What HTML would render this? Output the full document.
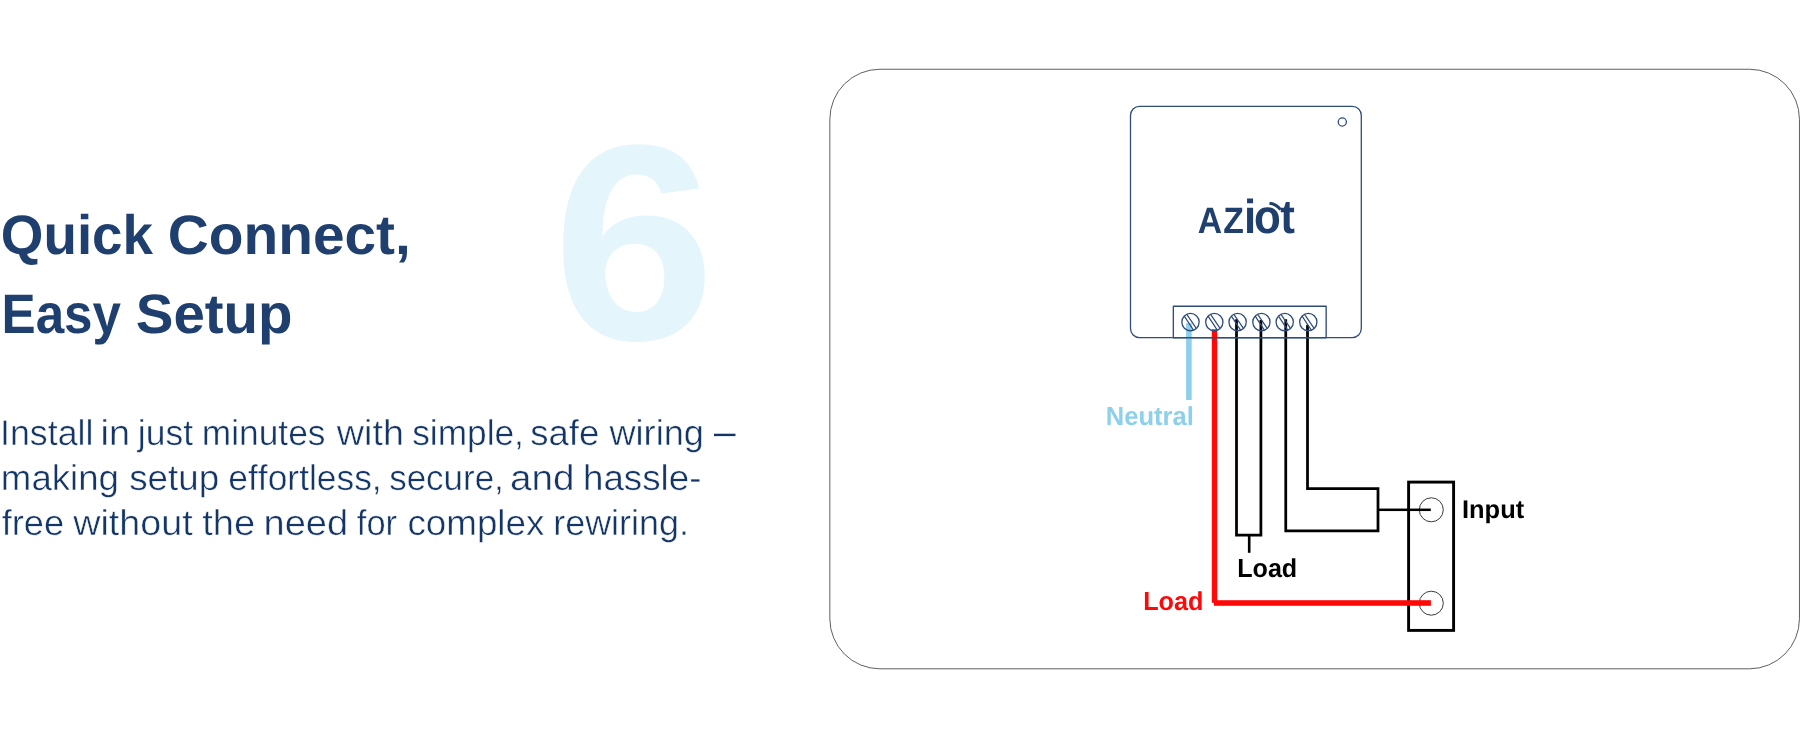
<!DOCTYPE html>
<html lang="en"><head><meta charset="utf-8"><title>Quick Connect, Easy Setup</title>
<style>html,body{margin:0;padding:0;background:#fff}body{width:1800px;height:738px;overflow:hidden}svg{display:block;will-change:transform}text{text-rendering:geometricPrecision;font-family:"Liberation Sans",sans-serif;font-kerning:none;font-variant-ligatures:none;white-space:pre}</style>
</head><body>
<svg width="1800" height="738" viewBox="0 0 1800 738">
<g id="bignum">
<text transform="translate(552.42,339.21) scale(1.0846,1.0344)" font-size="270.00" font-weight="bold" fill="#e5f5fc">6</text>
</g>
<g id="heading">
<text y="253.60" font-size="55.67" font-weight="bold" fill="#1f3f6e"><tspan x="0.81" textLength="152.26" lengthAdjust="spacingAndGlyphs">Quick</tspan> <tspan x="167.82" textLength="243.01" lengthAdjust="spacingAndGlyphs">Connect,</tspan></text>
<text y="333.00" font-size="55.67" font-weight="bold" fill="#1f3f6e"><tspan x="1.54" textLength="119.51" lengthAdjust="spacingAndGlyphs">Easy</tspan> <tspan x="135.81" textLength="156.75" lengthAdjust="spacingAndGlyphs">Setup</tspan></text>
</g>
<g id="para">
<text y="445.33" font-size="35.83" font-weight="normal" fill="#143667" stroke="#fff" stroke-width="0.45"><tspan x="0.07" textLength="93.37" lengthAdjust="spacingAndGlyphs">Install</tspan> <tspan x="100.61" textLength="29.38" lengthAdjust="spacingAndGlyphs">in</tspan> <tspan x="137.86" textLength="55.12" lengthAdjust="spacingAndGlyphs">just</tspan> <tspan x="201.79" textLength="123.67" lengthAdjust="spacingAndGlyphs">minutes</tspan> <tspan x="336.86" textLength="67.02" lengthAdjust="spacingAndGlyphs">with</tspan> <tspan x="412.21" textLength="111.69" lengthAdjust="spacingAndGlyphs">simple,</tspan> <tspan x="530.26" textLength="69.02" lengthAdjust="spacingAndGlyphs">safe</tspan> <tspan x="609.47" textLength="94.42" lengthAdjust="spacingAndGlyphs">wiring</tspan> <tspan x="714.10" textLength="21.50" lengthAdjust="spacingAndGlyphs" stroke="none" dy="-1.4">–</tspan></text>
<text y="490.23" font-size="35.83" font-weight="normal" fill="#143667" stroke="#fff" stroke-width="0.45"><tspan x="0.89" textLength="118.13" lengthAdjust="spacingAndGlyphs">making</tspan> <tspan x="129.26" textLength="89.84" lengthAdjust="spacingAndGlyphs">setup</tspan> <tspan x="228.37" textLength="153.33" lengthAdjust="spacingAndGlyphs">effortless,</tspan> <tspan x="389.22" textLength="114.55" lengthAdjust="spacingAndGlyphs">secure,</tspan> <tspan x="510.01" textLength="64.45" lengthAdjust="spacingAndGlyphs">and</tspan> <tspan x="583.00" textLength="118.39" lengthAdjust="spacingAndGlyphs">hassle-</tspan></text>
<text y="535.33" font-size="35.83" font-weight="normal" fill="#143667" stroke="#fff" stroke-width="0.45"><tspan x="1.73" textLength="62.34" lengthAdjust="spacingAndGlyphs">free</tspan> <tspan x="73.26" textLength="119.36" lengthAdjust="spacingAndGlyphs">without</tspan> <tspan x="202.29" textLength="52.87" lengthAdjust="spacingAndGlyphs">the</tspan> <tspan x="263.59" textLength="84.53" lengthAdjust="spacingAndGlyphs">need</tspan> <tspan x="356.87" textLength="40.17" lengthAdjust="spacingAndGlyphs">for</tspan> <tspan x="407.40" textLength="136.99" lengthAdjust="spacingAndGlyphs">complex</tspan> <tspan x="553.25" textLength="135.71" lengthAdjust="spacingAndGlyphs">rewiring.</tspan></text>
</g>
<rect x="829.84" y="69.25" width="969.61" height="599.55" rx="50" ry="50" fill="none" stroke="#4d4d4d" stroke-width="0.9"/>
<g id="device" fill="none" stroke="#2f4c7a" stroke-width="1.3">
<rect x="1130.5" y="106.4" width="230.8" height="231.2" rx="9" ry="9"/>
<circle cx="1342.3" cy="122" r="4.1"/>
</g>
<g id="switch" fill="none" stroke="#000">
<rect x="1408.6" y="482.1" width="45.0" height="148.3" stroke-width="2.9"/>
<circle cx="1431.3" cy="509.8" r="12" stroke-width="1" stroke="#3a3a3a"/>
<circle cx="1431.3" cy="603.2" r="12" stroke-width="1" stroke="#3a3a3a"/>
</g>
<g id="wires">
<rect x="1186.1" y="323.2" width="5.6" height="76.8" fill="#8dd0ec"/>
<rect x="1211.8" y="329.3" width="5.4" height="273.5" fill="#ff0808"/>
<rect x="1213.9" y="600.2" width="217.0" height="5.6" fill="#ff0808"/>
<g fill="none" stroke="#000" stroke-width="2.75" stroke-linejoin="miter">
<path d="M1236.5 319.2 V535.1 H1260.9 V320"/>
<path d="M1285.75 319.2 V530.9 H1378 V488.6 H1307.5 V325"/>
</g>
<rect x="1247.9" y="536" width="2.6" height="16.8" fill="#000"/>
<rect x="1378" y="508.55" width="52.8" height="2.5" fill="#000"/>
</g>
<g id="terminal" fill="none" stroke="#2f4c7a" stroke-width="1.35">
<rect x="1173.35" y="306.25" width="152.8" height="31.45" stroke-linejoin="round"/>
<circle cx="1190.5" cy="322.1" r="8.65" stroke-width="1.3"/>
<path d="M1184.3 316.1 L1193.5 330.1 M1186.8 314.3 L1196.3 328.4" stroke-width="1.2"/>
<circle cx="1214.3" cy="322.1" r="8.65" stroke-width="1.3"/>
<path d="M1208.1 316.1 L1217.3 330.1 M1210.6 314.3 L1220.1 328.4" stroke-width="1.2"/>
<circle cx="1237.6" cy="322.1" r="8.65" stroke-width="1.3"/>
<path d="M1231.4 316.1 L1240.6 330.1 M1233.9 314.3 L1243.4 328.4" stroke-width="1.2"/>
<circle cx="1261.4" cy="322.1" r="8.65" stroke-width="1.3"/>
<path d="M1255.2 316.1 L1264.4 330.1 M1257.7 314.3 L1267.2 328.4" stroke-width="1.2"/>
<circle cx="1284.7" cy="322.1" r="8.65" stroke-width="1.3"/>
<path d="M1278.5 316.1 L1287.7 330.1 M1281.0 314.3 L1290.5 328.4" stroke-width="1.2"/>
<circle cx="1308.3" cy="322.1" r="8.65" stroke-width="1.3"/>
<path d="M1302.1 316.1 L1311.3 330.1 M1304.6 314.3 L1314.1 328.4" stroke-width="1.2"/>
</g>
<g id="labels">
<text transform="translate(1105.78,424.60) scale(0.9815,1.0000)" font-size="26.02" font-weight="bold" fill="#8dd0ec">Neutral</text>
<text transform="translate(1143.20,610.10) scale(0.9692,1.0000)" font-size="26.02" font-weight="bold" fill="#ff0808">Load</text>
<text transform="translate(1237.20,576.60) scale(0.9658,1.0000)" font-size="26.02" font-weight="bold" fill="#000">Load</text>
<text transform="translate(1461.98,518.20) scale(0.9955,1.0000)" font-size="25.58" font-weight="bold" fill="#000">Input</text>
</g>
<g id="logo">
<text transform="translate(0,232.70) scale(0.920,1)" font-weight="bold" fill="#1f3f6e"><tspan font-size="36.63" x="1301.92 1329.65">AZ</tspan><tspan font-size="47.73" x="1352.29 1363.05 1391.47">iot</tspan></text>
<path d="M1269.5 203.2 A17.5 17.5 0 0 1 1280.6 209.6" fill="none" stroke="#1f3f6e" stroke-width="3"/>
</g>
</svg></body></html>
